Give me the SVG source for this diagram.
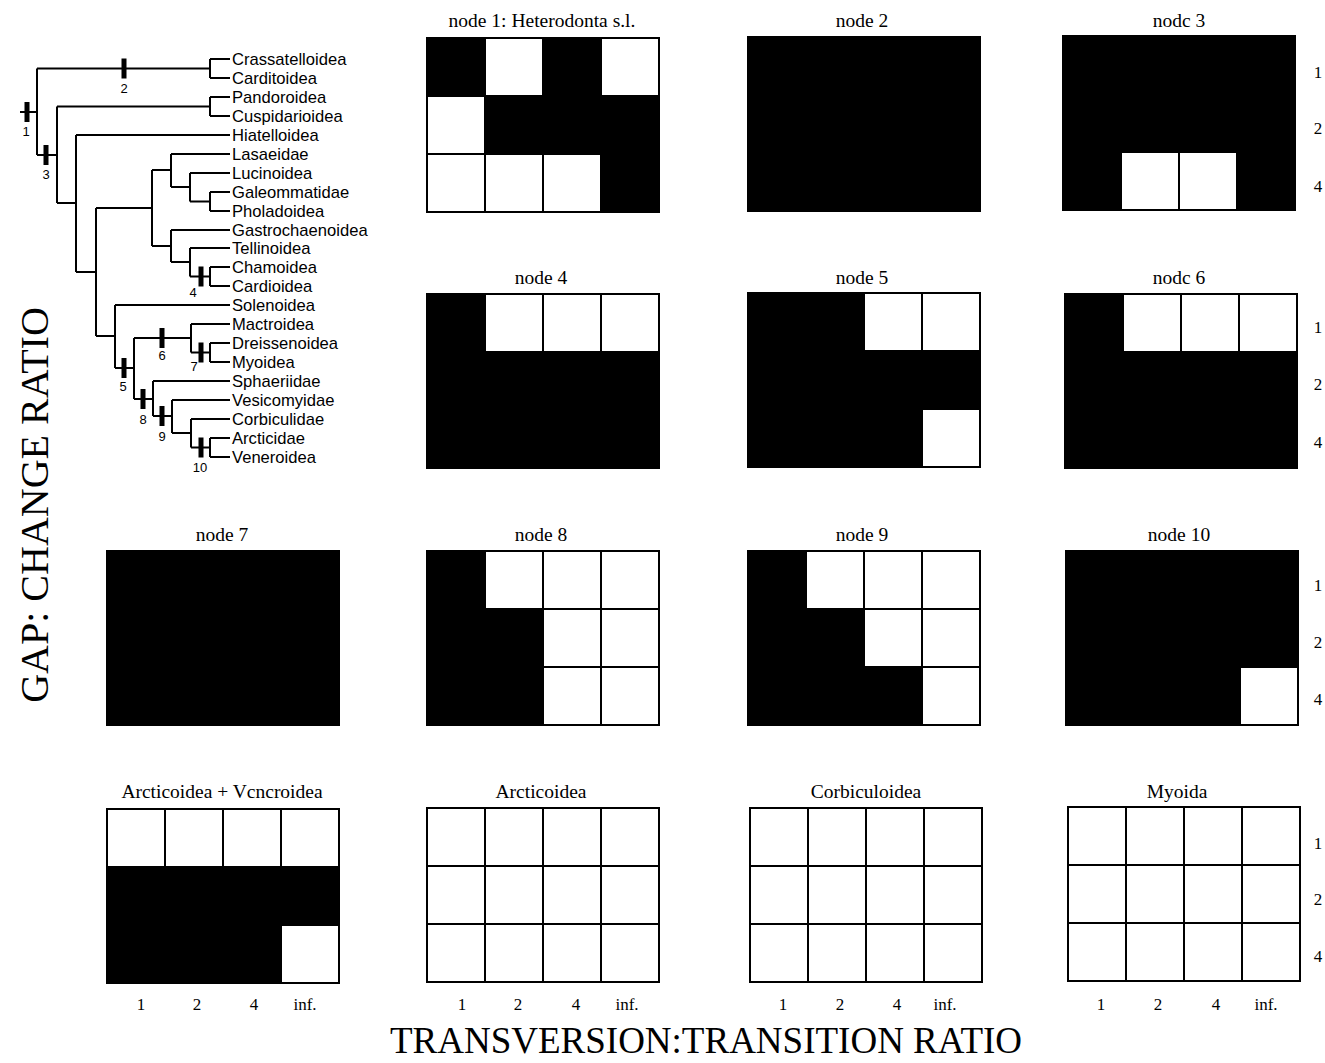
<svg xmlns="http://www.w3.org/2000/svg" xmlns:xlink="http://www.w3.org/1999/xlink" width="1325" height="1063" viewBox="0 0 1325 1063">
<style>
.bg{fill:#ffffff}
.b{fill:#000;stroke:#000;stroke-width:2}
.w{fill:#fff;stroke:#000;stroke-width:2}
.ttl{font-family:"Liberation Serif","Times New Roman",serif;font-size:19.5px;fill:#000;text-anchor:middle}
.tick{font-family:"Liberation Serif","Times New Roman",serif;font-size:17px;fill:#000;text-anchor:middle}
.axis{font-family:"Liberation Serif","Times New Roman",serif;fill:#000;text-anchor:middle}
.tax{font-family:"Liberation Sans",Arial,sans-serif;font-size:16.6px;fill:#000}
.nn{font-family:"Liberation Sans",Arial,sans-serif;font-size:13px;fill:#000;text-anchor:middle}
.br{fill:none;stroke:#000;stroke-width:2}
.bar{fill:#000}
</style>
<defs>
<rect id="B" class="b" width="58" height="58"/>
<rect id="W" class="w" width="58" height="58"/>
</defs>
<rect class="bg" width="1325" height="1063"/>

<g id="cladogram">
<g id="connectors">
<path class="br" d="M20,112H37 M37,68.5V155 M37,68.5H210 M210,59V78 M210,59H230 M210,78H230
M37,155H57 M57,106.5V203 M57,106.5H210 M210,97V116 M210,97H230 M210,116H230
M57,203H76 M76,135V272 M76,135H230
M76,272H96 M96,208V336
M96,208H152 M152,170V246
M152,170H171 M171,154V187 M171,154H230 M171,187H190 M190,173V201.5 M190,173H230 M190,201.5H210 M210,192V211 M210,192H230 M210,211H230
M152,246H171 M171,230V262 M171,230H230 M171,262H190 M190,248V276.5 M190,248H230 M190,276.5H210 M210,267V286 M210,267H230 M210,286H230
M96,336H115 M115,305V368 M115,305H230
M115,368H134 M134,338V399
M134,338H191 M191,324V352.5 M191,324H230 M191,352.5H210 M210,343V362 M210,343H230 M210,362H230
M134,399H153 M153,381V416 M153,381H230 M153,416H172 M172,400V433 M172,400H230 M172,433H191 M191,419V447.5 M191,419H230 M191,447.5H210 M210,438V457 M210,438H230 M210,457H230"/>
</g>
<g id="bars">
<rect class="bar" x="24.5" y="102" width="5" height="20"/>
<rect class="bar" x="121.5" y="58.5" width="5" height="20"/>
<rect class="bar" x="43.5" y="145" width="5" height="20"/>
<rect class="bar" x="198.5" y="266.5" width="5" height="20"/>
<rect class="bar" x="121.5" y="358" width="5" height="20"/>
<rect class="bar" x="159.5" y="328" width="5" height="20"/>
<rect class="bar" x="198.5" y="342.5" width="5" height="20"/>
<rect class="bar" x="140.5" y="389" width="5" height="20"/>
<rect class="bar" x="159.5" y="406" width="5" height="20"/>
<rect class="bar" x="198.5" y="437.5" width="5" height="20"/>
</g>
<g id="node-numbers">
<text class="nn" x="26" y="136">1</text>
<text class="nn" x="124" y="93">2</text>
<text class="nn" x="46" y="179">3</text>
<text class="nn" x="193" y="297">4</text>
<text class="nn" x="123" y="391">5</text>
<text class="nn" x="162" y="360">6</text>
<text class="nn" x="194" y="371">7</text>
<text class="nn" x="143" y="424">8</text>
<text class="nn" x="162" y="441">9</text>
<text class="nn" x="200" y="472">10</text>
</g>
<g id="taxa">
<text class="tax" x="232" y="65">Crassatelloidea</text>
<text class="tax" x="232" y="84">Carditoidea</text>
<text class="tax" x="232" y="103">Pandoroidea</text>
<text class="tax" x="232" y="122">Cuspidarioidea</text>
<text class="tax" x="232" y="141">Hiatelloidea</text>
<text class="tax" x="232" y="160">Lasaeidae</text>
<text class="tax" x="232" y="179">Lucinoidea</text>
<text class="tax" x="232" y="198">Galeommatidae</text>
<text class="tax" x="232" y="217">Pholadoidea</text>
<text class="tax" x="232" y="236">Gastrochaenoidea</text>
<text class="tax" x="232" y="254">Tellinoidea</text>
<text class="tax" x="232" y="273">Chamoidea</text>
<text class="tax" x="232" y="292">Cardioidea</text>
<text class="tax" x="232" y="311">Solenoidea</text>
<text class="tax" x="232" y="330">Mactroidea</text>
<text class="tax" x="232" y="349">Dreissenoidea</text>
<text class="tax" x="232" y="368">Myoidea</text>
<text class="tax" x="232" y="387">Sphaeriidae</text>
<text class="tax" x="232" y="406">Vesicomyidae</text>
<text class="tax" x="232" y="425">Corbiculidae</text>
<text class="tax" x="232" y="444">Arcticidae</text>
<text class="tax" x="232" y="463">Veneroidea</text>
</g>
</g>

<!-- Row 0 -->
<g id="grid-node1">
<text class="ttl" x="542" y="27">node 1: Heterodonta s.l.</text>
<g transform="translate(427,38)">
<use xlink:href="#B" x="0" y="0"/><use xlink:href="#W" x="58" y="0"/><use xlink:href="#B" x="116" y="0"/><use xlink:href="#W" x="174" y="0"/>
<use xlink:href="#W" x="0" y="58"/><use xlink:href="#B" x="58" y="58"/><use xlink:href="#B" x="116" y="58"/><use xlink:href="#B" x="174" y="58"/>
<use xlink:href="#W" x="0" y="116"/><use xlink:href="#W" x="58" y="116"/><use xlink:href="#W" x="116" y="116"/><use xlink:href="#B" x="174" y="116"/>
</g>
</g>
<g id="grid-node2">
<text class="ttl" x="862" y="27">node 2</text>
<g transform="translate(748,37)">
<use xlink:href="#B" x="0" y="0"/><use xlink:href="#B" x="58" y="0"/><use xlink:href="#B" x="116" y="0"/><use xlink:href="#B" x="174" y="0"/>
<use xlink:href="#B" x="0" y="58"/><use xlink:href="#B" x="58" y="58"/><use xlink:href="#B" x="116" y="58"/><use xlink:href="#B" x="174" y="58"/>
<use xlink:href="#B" x="0" y="116"/><use xlink:href="#B" x="58" y="116"/><use xlink:href="#B" x="116" y="116"/><use xlink:href="#B" x="174" y="116"/>
</g>
</g>
<g id="grid-node3">
<text class="ttl" x="1179" y="27">nodc 3</text>
<g transform="translate(1063,36)">
<use xlink:href="#B" x="0" y="0"/><use xlink:href="#B" x="58" y="0"/><use xlink:href="#B" x="116" y="0"/><use xlink:href="#B" x="174" y="0"/>
<use xlink:href="#B" x="0" y="58"/><use xlink:href="#B" x="58" y="58"/><use xlink:href="#B" x="116" y="58"/><use xlink:href="#B" x="174" y="58"/>
<use xlink:href="#B" x="0" y="116"/><use xlink:href="#W" x="58" y="116"/><use xlink:href="#W" x="116" y="116"/><use xlink:href="#B" x="174" y="116"/>
</g>
</g>

<!-- Row 1 -->
<g id="grid-node4">
<text class="ttl" x="541" y="284">node 4</text>
<g transform="translate(427,294)">
<use xlink:href="#B" x="0" y="0"/><use xlink:href="#W" x="58" y="0"/><use xlink:href="#W" x="116" y="0"/><use xlink:href="#W" x="174" y="0"/>
<use xlink:href="#B" x="0" y="58"/><use xlink:href="#B" x="58" y="58"/><use xlink:href="#B" x="116" y="58"/><use xlink:href="#B" x="174" y="58"/>
<use xlink:href="#B" x="0" y="116"/><use xlink:href="#B" x="58" y="116"/><use xlink:href="#B" x="116" y="116"/><use xlink:href="#B" x="174" y="116"/>
</g>
</g>
<g id="grid-node5">
<text class="ttl" x="862" y="284">node 5</text>
<g transform="translate(748,293)">
<use xlink:href="#B" x="0" y="0"/><use xlink:href="#B" x="58" y="0"/><use xlink:href="#W" x="116" y="0"/><use xlink:href="#W" x="174" y="0"/>
<use xlink:href="#B" x="0" y="58"/><use xlink:href="#B" x="58" y="58"/><use xlink:href="#B" x="116" y="58"/><use xlink:href="#B" x="174" y="58"/>
<use xlink:href="#B" x="0" y="116"/><use xlink:href="#B" x="58" y="116"/><use xlink:href="#B" x="116" y="116"/><use xlink:href="#W" x="174" y="116"/>
</g>
</g>
<g id="grid-node6">
<text class="ttl" x="1179" y="284">nodc 6</text>
<g transform="translate(1065,294)">
<use xlink:href="#B" x="0" y="0"/><use xlink:href="#W" x="58" y="0"/><use xlink:href="#W" x="116" y="0"/><use xlink:href="#W" x="174" y="0"/>
<use xlink:href="#B" x="0" y="58"/><use xlink:href="#B" x="58" y="58"/><use xlink:href="#B" x="116" y="58"/><use xlink:href="#B" x="174" y="58"/>
<use xlink:href="#B" x="0" y="116"/><use xlink:href="#B" x="58" y="116"/><use xlink:href="#B" x="116" y="116"/><use xlink:href="#B" x="174" y="116"/>
</g>
</g>

<!-- Row 2 -->
<g id="grid-node7">
<text class="ttl" x="222" y="541">node 7</text>
<g transform="translate(107,551)">
<use xlink:href="#B" x="0" y="0"/><use xlink:href="#B" x="58" y="0"/><use xlink:href="#B" x="116" y="0"/><use xlink:href="#B" x="174" y="0"/>
<use xlink:href="#B" x="0" y="58"/><use xlink:href="#B" x="58" y="58"/><use xlink:href="#B" x="116" y="58"/><use xlink:href="#B" x="174" y="58"/>
<use xlink:href="#B" x="0" y="116"/><use xlink:href="#B" x="58" y="116"/><use xlink:href="#B" x="116" y="116"/><use xlink:href="#B" x="174" y="116"/>
</g>
</g>
<g id="grid-node8">
<text class="ttl" x="541" y="541">node 8</text>
<g transform="translate(427,551)">
<use xlink:href="#B" x="0" y="0"/><use xlink:href="#W" x="58" y="0"/><use xlink:href="#W" x="116" y="0"/><use xlink:href="#W" x="174" y="0"/>
<use xlink:href="#B" x="0" y="58"/><use xlink:href="#B" x="58" y="58"/><use xlink:href="#W" x="116" y="58"/><use xlink:href="#W" x="174" y="58"/>
<use xlink:href="#B" x="0" y="116"/><use xlink:href="#B" x="58" y="116"/><use xlink:href="#W" x="116" y="116"/><use xlink:href="#W" x="174" y="116"/>
</g>
</g>
<g id="grid-node9">
<text class="ttl" x="862" y="541">node 9</text>
<g transform="translate(748,551)">
<use xlink:href="#B" x="0" y="0"/><use xlink:href="#W" x="58" y="0"/><use xlink:href="#W" x="116" y="0"/><use xlink:href="#W" x="174" y="0"/>
<use xlink:href="#B" x="0" y="58"/><use xlink:href="#B" x="58" y="58"/><use xlink:href="#W" x="116" y="58"/><use xlink:href="#W" x="174" y="58"/>
<use xlink:href="#B" x="0" y="116"/><use xlink:href="#B" x="58" y="116"/><use xlink:href="#B" x="116" y="116"/><use xlink:href="#W" x="174" y="116"/>
</g>
</g>
<g id="grid-node10">
<text class="ttl" x="1179" y="541">node 10</text>
<g transform="translate(1066,551)">
<use xlink:href="#B" x="0" y="0"/><use xlink:href="#B" x="58" y="0"/><use xlink:href="#B" x="116" y="0"/><use xlink:href="#B" x="174" y="0"/>
<use xlink:href="#B" x="0" y="58"/><use xlink:href="#B" x="58" y="58"/><use xlink:href="#B" x="116" y="58"/><use xlink:href="#B" x="174" y="58"/>
<use xlink:href="#B" x="0" y="116"/><use xlink:href="#B" x="58" y="116"/><use xlink:href="#B" x="116" y="116"/><use xlink:href="#W" x="174" y="116"/>
</g>
</g>

<!-- Row 3 -->
<g id="grid-arct-vener">
<text class="ttl" x="222" y="798">Arcticoidea + Vcncroidea</text>
<g transform="translate(107,809)">
<use xlink:href="#W" x="0" y="0"/><use xlink:href="#W" x="58" y="0"/><use xlink:href="#W" x="116" y="0"/><use xlink:href="#W" x="174" y="0"/>
<use xlink:href="#B" x="0" y="58"/><use xlink:href="#B" x="58" y="58"/><use xlink:href="#B" x="116" y="58"/><use xlink:href="#B" x="174" y="58"/>
<use xlink:href="#B" x="0" y="116"/><use xlink:href="#B" x="58" y="116"/><use xlink:href="#B" x="116" y="116"/><use xlink:href="#W" x="174" y="116"/>
</g>
</g>
<g id="grid-arcticoidea">
<text class="ttl" x="541" y="798">Arcticoidea</text>
<g transform="translate(427,808)">
<use xlink:href="#W" x="0" y="0"/><use xlink:href="#W" x="58" y="0"/><use xlink:href="#W" x="116" y="0"/><use xlink:href="#W" x="174" y="0"/>
<use xlink:href="#W" x="0" y="58"/><use xlink:href="#W" x="58" y="58"/><use xlink:href="#W" x="116" y="58"/><use xlink:href="#W" x="174" y="58"/>
<use xlink:href="#W" x="0" y="116"/><use xlink:href="#W" x="58" y="116"/><use xlink:href="#W" x="116" y="116"/><use xlink:href="#W" x="174" y="116"/>
</g>
</g>
<g id="grid-corbiculoidea">
<text class="ttl" x="866" y="798">Corbiculoidea</text>
<g transform="translate(750,808)">
<use xlink:href="#W" x="0" y="0"/><use xlink:href="#W" x="58" y="0"/><use xlink:href="#W" x="116" y="0"/><use xlink:href="#W" x="174" y="0"/>
<use xlink:href="#W" x="0" y="58"/><use xlink:href="#W" x="58" y="58"/><use xlink:href="#W" x="116" y="58"/><use xlink:href="#W" x="174" y="58"/>
<use xlink:href="#W" x="0" y="116"/><use xlink:href="#W" x="58" y="116"/><use xlink:href="#W" x="116" y="116"/><use xlink:href="#W" x="174" y="116"/>
</g>
</g>
<g id="grid-myoida">
<text class="ttl" x="1177" y="798">Myoida</text>
<g transform="translate(1068,807)">
<use xlink:href="#W" x="0" y="0"/><use xlink:href="#W" x="58" y="0"/><use xlink:href="#W" x="116" y="0"/><use xlink:href="#W" x="174" y="0"/>
<use xlink:href="#W" x="0" y="58"/><use xlink:href="#W" x="58" y="58"/><use xlink:href="#W" x="116" y="58"/><use xlink:href="#W" x="174" y="58"/>
<use xlink:href="#W" x="0" y="116"/><use xlink:href="#W" x="58" y="116"/><use xlink:href="#W" x="116" y="116"/><use xlink:href="#W" x="174" y="116"/>
</g>
</g>

<g id="row-labels">
<text class="tick" x="1318" y="78">1</text><text class="tick" x="1318" y="134">2</text><text class="tick" x="1318" y="192">4</text>
<text class="tick" x="1318" y="333">1</text><text class="tick" x="1318" y="390">2</text><text class="tick" x="1318" y="448">4</text>
<text class="tick" x="1318" y="591">1</text><text class="tick" x="1318" y="648">2</text><text class="tick" x="1318" y="705">4</text>
<text class="tick" x="1318" y="849">1</text><text class="tick" x="1318" y="905">2</text><text class="tick" x="1318" y="962">4</text>
</g>
<g id="col-labels">
<text class="tick" x="141" y="1010">1</text><text class="tick" x="197" y="1010">2</text><text class="tick" x="254" y="1010">4</text><text class="tick" x="305" y="1010">inf.</text>
<text class="tick" x="462" y="1010">1</text><text class="tick" x="518" y="1010">2</text><text class="tick" x="576" y="1010">4</text><text class="tick" x="627" y="1010">inf.</text>
<text class="tick" x="783" y="1010">1</text><text class="tick" x="840" y="1010">2</text><text class="tick" x="897" y="1010">4</text><text class="tick" x="945" y="1010">inf.</text>
<text class="tick" x="1101" y="1010">1</text><text class="tick" x="1158" y="1010">2</text><text class="tick" x="1216" y="1010">4</text><text class="tick" x="1266" y="1010">inf.</text>
</g>

<text class="axis" style="font-size:37px" x="706" y="1053">TRANSVERSION:TRANSITION RATIO</text>
<text class="axis" style="font-size:40px" transform="translate(48,505) rotate(-90)" x="0" y="0">GAP: CHANGE RATIO</text>
</svg>
